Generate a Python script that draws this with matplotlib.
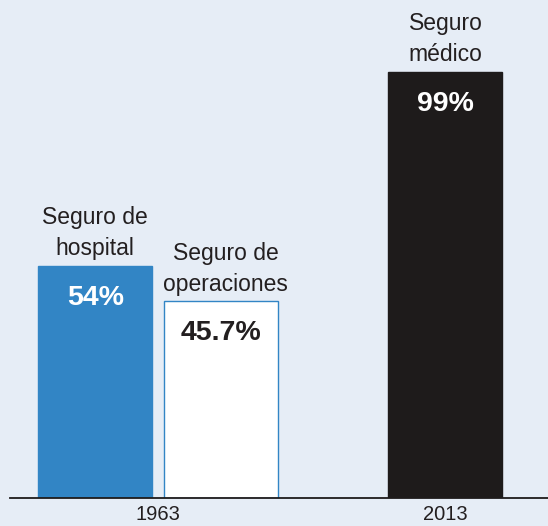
import matplotlib
matplotlib.use("Agg")
import matplotlib.pyplot as plt

plt.rcParams['font.family'] = ['Liberation Sans', 'DejaVu Sans']

years = ["1963", "2013"]
series_names = ["Seguro de\nhospital", "Seguro de\noperaciones", "Seguro\nmédico"]
values = [54, 45.7, 99]
value_labels = ["54%", "45.7%", "99%"]
bar_year = [0, 0, 1]

bg = "#e6edf6"
blue = "#3285c5"
black = "#1e1b1b"
txt = "#231f20"

fig = plt.figure(figsize=(5.48, 5.26), dpi=100, facecolor=bg)
ax = fig.add_axes([10/548, 28/526, 538/548, 498/526])
ax.set_facecolor(bg)

group_pos = [1.30, 3.82]
offsets = [-0.553, 0.553, 0.0]
xs = [group_pos[bar_year[i]] + offsets[i] for i in range(3)]
faces = [blue, "white", black]
edges = [blue, blue, black]
vcolors = ["white", txt, "white"]
name_dx = [0, 3, 0]

for i in range(3):
    ax.bar(xs[i], values[i], width=1.0, color=faces[i], edgecolor=edges[i],
           linewidth=1.0, zorder=2)
    ax.annotate(series_names[i], (xs[i], values[i]), xytext=(name_dx[i], 4),
                textcoords="offset points", ha="center", va="bottom",
                fontsize=16.5, color=txt, linespacing=1.45)
    ax.annotate(value_labels[i], (xs[i], values[i]), xytext=(0, -23),
                textcoords="offset points", ha="center", va="center",
                fontsize=20.5, fontweight="bold", color=vcolors[i])

ax.set_xlim(0, 538/114)
ax.set_ylim(0, 115.7)
ax.set_xticks(group_pos)
ax.set_xticklabels(years, fontsize=14.5, color=txt)
ax.tick_params(axis="x", length=0, pad=5)
ax.set_yticks([])
for s in ["top", "right", "left"]:
    ax.spines[s].set_visible(False)
ax.spines["bottom"].set_color(black)
ax.spines["bottom"].set_linewidth(1.3)

fig.savefig("out.png", dpi=100, facecolor=bg)
